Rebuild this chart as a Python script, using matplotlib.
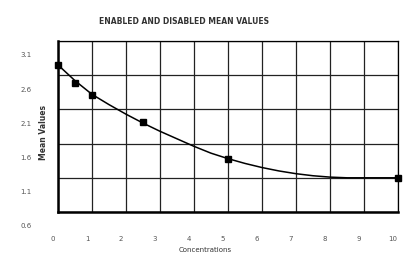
import matplotlib.pyplot as plt
import matplotlib.transforms as mtransforms

# Data
conc = [0, 0.5, 1, 2.5, 5, 10]
mean_vals = [2.75, 2.49, 2.31, 1.91, 1.37, 1.10]

# fitted curve
curve_x = [0, 0.5, 1, 1.5, 2, 2.5, 3, 3.5, 4, 4.5, 5, 5.5, 6, 6.5, 7, 7.5, 8, 8.5, 9, 9.5, 10]
curve_y = [2.75, 2.52, 2.32, 2.17, 2.03, 1.90, 1.78, 1.67, 1.56, 1.46, 1.38, 1.31,
           1.25, 1.20, 1.16, 1.13, 1.11, 1.10, 1.10, 1.10, 1.10]

x_ticks = list(range(0, 11))
y_ticks = [0.6, 1.1, 1.6, 2.1, 2.6, 3.1]
y_labels = ['0.6', '1.1', '1.6', '2.1', '2.6', '3.1']

plt.rcParams['font.family'] = 'DejaVu Sans'

fig = plt.figure(figsize=(4.14, 2.61), dpi=100)
ax = fig.add_axes([58 / 414, 1 - 212 / 261, 340 / 414, 171 / 261])

ax.plot(curve_x, curve_y, color='black', linewidth=1.1, zorder=3)
ax.plot(conc, mean_vals, 'ks', markersize=4, zorder=4, clip_on=False)

ax.set_xlim(0, 10)
ax.set_ylim(0.6, 3.1)
ax.set_xticks(x_ticks)
ax.set_yticks(y_ticks)
ax.set_yticklabels(y_labels)
ax.grid(True, color='#222222', linewidth=0.9)
ax.set_axisbelow(True)

for side in ['top', 'right']:
    ax.spines[side].set_linewidth(0.9)
for side in ['left', 'bottom']:
    ax.spines[side].set_linewidth(1.8)

ax.tick_params(axis='both', length=0, labelsize=5, labelcolor='#555555')
ax.tick_params(axis='x', pad=17)
ax.tick_params(axis='y', pad=19)

# labels in the original sit a bit off their grid lines
ydown = mtransforms.ScaledTranslation(0, -0.14, fig.dpi_scale_trans)
for lbl in ax.get_yticklabels():
    lbl.set_transform(lbl.get_transform() + ydown)
xleft = mtransforms.ScaledTranslation(-0.05, 0, fig.dpi_scale_trans)
for lbl in ax.get_xticklabels():
    lbl.set_transform(lbl.get_transform() + xleft)

fig.text(184 / 414, 1 - 22 / 261, 'ENABLED AND DISABLED MEAN VALUES',
         ha='center', va='center', fontsize=5.5, fontweight='bold', color='#333333')
fig.text(205 / 414, 1 - 250 / 261, 'Concentrations',
         ha='center', va='center', fontsize=5, color='#333333')
fig.text(44 / 414, 1 - 132 / 261, 'Mean Values', rotation=90,
         ha='center', va='center', fontsize=5.5, fontweight='bold', color='#333333')

plt.savefig('out.png', dpi=100)
